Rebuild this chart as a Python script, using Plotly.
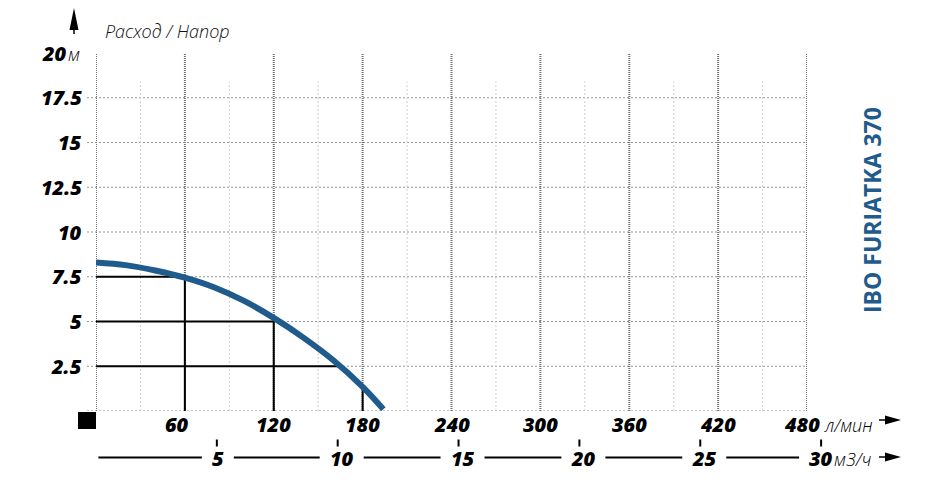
import plotly.graph_objects as go

# ---- data ----
flow_lmin = [0, 20, 40, 60, 80, 100, 120, 140, 160, 180, 194]
head_m = [8.3, 8.15, 7.85, 7.45, 6.9, 6.15, 5.2, 4.1, 2.85, 1.35, 0.1]

# duty-point guide lines
guide_heads = [7.5, 5, 2.5]
guide_head_flow = [60, 120, 165]
guide_flows = [60, 120, 180]
guide_flow_head = [7.5, 5.2, 1.3]

x_major = [0, 60, 120, 180, 240, 300, 360, 420, 480]
x_minor = [30, 90, 150, 210, 270, 330, 390, 450]
x_labels = [60, 120, 180, 240, 300, 360, 420, 480]
m3h_labels = [5, 10, 15, 20, 25, 30]
y_grid = [2.5, 5, 7.5, 10, 12.5, 15, 17.5]
y_labels = [2.5, 5, 7.5, 10, 12.5, 15, 17.5, 20]
y_label_text = ["2.5", "5", "7.5", "10", "12.5", "15", "17.5", "20"]

TITLE = "Расход / Напор"
MODEL = "IBO FURIATKA 370"
UNIT_Q = "л/мин"
UNIT_Q2 = "м3/ч"
UNIT_H = "м"

# ---- layout geometry (page body has an 8px margin) ----
OFF = 8
W, H = 925 - OFF, 486 - OFF
def px(x):
    return (x - OFF) / W
def py(y):
    return 1 - (y - OFF) / H

BLUE = "#1f5b8c"
FONT = "Open Sans"
K = 24.17          # px per m3/h on the lower scale
X2_LEFT = 96
X2_RIGHT = 900

fig = go.Figure()

# guides
gx, gy = [], []
for h, q in zip(guide_heads, guide_head_flow):
    gx += [0, q, None]
    gy += [h, h, None]
for q, h in zip(guide_flows, guide_flow_head):
    gx += [q, q, None]
    gy += [0, h, None]
fig.add_trace(go.Scatter(x=gx, y=gy, mode="lines",
                         line=dict(color="black", width=2),
                         hoverinfo="skip", showlegend=False))

# curve
fig.add_trace(go.Scatter(x=flow_lmin, y=head_m, mode="lines",
                         line=dict(color=BLUE, width=6, shape="spline", smoothing=1.0),
                         showlegend=False))

shapes = []
# minor vertical grid
for v in x_minor:
    shapes.append(dict(type="line", xref="x", yref="y", x0=v, x1=v, y0=0, y1=18.4,
                       line=dict(color="#cfcfcf", width=1, dash="2px,2px"), layer="below"))
# horizontal grid
for v in y_grid:
    shapes.append(dict(type="line", xref="paper", yref="y", x0=px(87), x1=px(807), y0=v, y1=v,
                       line=dict(color="#959595", width=1.2, dash="2px,2px"), layer="below"))
# bottom line
shapes.append(dict(type="line", xref="paper", yref="y", x0=px(87), x1=px(807), y0=0, y1=0,
                   line=dict(color="#b5b5b5", width=1.6, dash="2px,2px"), layer="below"))
# major vertical grid
for v in x_major:
    shapes.append(dict(type="line", xref="x", yref="y", x0=v, x1=v, y0=0, y1=20,
                       line=dict(color="#6e6e6e", width=2, dash="1px,1px"), layer="below"))

# m3/h scale line (broken around the labels) and ticks
m3_shift = {5: 1, 30: 0}
LINE_Y = 457.5
seg_start = 0.1
for v in m3h_labels:
    half = (6 + 6 * len(str(v)) + 4) / K
    c = v + m3_shift.get(v, 4) / K
    shapes.append(dict(type="line", xref="x2", yref="paper", x0=seg_start, x1=c - half,
                       y0=py(LINE_Y), y1=py(LINE_Y), line=dict(color="black", width=2.2)))
    seg_start = c + half
for v in m3h_labels:
    shapes.append(dict(type="line", xref="x2", yref="paper", x0=v, x1=v, y0=py(439.5), y1=py(446.5),
                       line=dict(color="black", width=2)))

# black square at origin
shapes.append(dict(type="rect", xref="paper", yref="paper", x0=px(78), x1=px(96),
                   y0=py(429), y1=py(412), fillcolor="black", line=dict(width=0)))

def tri(points):
    return "M " + " L ".join(f"{px(a):.5f},{py(b):.5f}" for a, b in points) + " Z"

# up arrow
shapes.append(dict(type="path", xref="paper", yref="paper",
                   path=tri([(74, 8), (78.5, 30), (69.5, 30)]),
                   fillcolor="black", line=dict(width=0)))
shapes.append(dict(type="line", xref="paper", yref="paper", x0=px(74), x1=px(74),
                   y0=py(29), y1=py(34), line=dict(color="black", width=1.5)))
# right arrows
for yy in (420, 457):
    shapes.append(dict(type="path", xref="paper", yref="paper",
                       path=tri([(901, yy), (885, yy - 4.5), (885, yy + 4.5)]),
                       fillcolor="black", line=dict(width=0)))
    shapes.append(dict(type="line", xref="paper", yref="paper", x0=px(879), x1=px(886),
                       y0=py(yy), y1=py(yy), line=dict(color="black", width=1.5)))

ann = []
numfont = dict(family=FONT, size=20, color="black", style="italic", weight=800)
lightfont = dict(family=FONT, size=18, color="black", style="italic", weight=300)

for v, t in zip(y_labels, y_label_text):
    if v == 20:
        ann.append(dict(x=px(69), y=v, xref="paper", yref="y", xanchor="right", yanchor="middle",
                        text=t, showarrow=False, font=numfont))
        ann.append(dict(x=px(66), y=v, xref="paper", yref="y", xanchor="left", yanchor="middle",
                        text=UNIT_H, showarrow=False, font=lightfont, yshift=-1))
    else:
        ann.append(dict(x=px(84), y=v, xref="paper", yref="y", xanchor="right", yanchor="middle",
                        text=t, showarrow=False, font=numfont))

label_shift = {60: -8, 480: -5}
for v in x_labels:
    ann.append(dict(x=v, y=py(424), xref="x", yref="paper", xanchor="center", yanchor="middle",
                    text=str(v), showarrow=False, font=numfont, xshift=label_shift.get(v, 0)))
ann.append(dict(x=480, y=py(424), xref="x", yref="paper", xanchor="left", yanchor="middle",
                text=UNIT_Q, showarrow=False, font=lightfont, xshift=15, yshift=-1))

for v in m3h_labels:
    ann.append(dict(x=v, y=py(458), xref="x2", yref="paper", xanchor="center", yanchor="middle",
                    text=str(v), showarrow=False, font=numfont, xshift=m3_shift.get(v, 4)))
ann.append(dict(x=30, y=py(458), xref="x2", yref="paper", xanchor="left", yanchor="middle",
                text=UNIT_Q2, showarrow=False, font=lightfont, xshift=11, yshift=-1))

ann.append(dict(x=px(103), y=py(31), xref="paper", yref="paper", xanchor="left", yanchor="middle",
                text=TITLE, showarrow=False, font=dict(family=FONT, size=18, color="#111",
                                                      style="italic", weight=300)))
ann.append(dict(x=px(872), y=py(210), xref="paper", yref="paper", xanchor="center", yanchor="middle",
                text=MODEL, showarrow=False, textangle=-90,
                font=dict(family=FONT, size=23, color=BLUE, weight=700)))

fig.update_layout(
    width=W, height=H,
    margin=dict(l=0, r=0, t=0, b=0),
    paper_bgcolor="white", plot_bgcolor="rgba(0,0,0,0)",
    xaxis=dict(domain=[px(96), px(807)], range=[0, 480], visible=False, fixedrange=True),
    xaxis2=dict(domain=[px(X2_LEFT), px(X2_RIGHT)], range=[0, (X2_RIGHT - X2_LEFT) / K],
                visible=False, anchor="y", fixedrange=True),
    yaxis=dict(domain=[py(411), py(53)], range=[0, 20], visible=False, fixedrange=True),
    shapes=shapes,
    annotations=ann,
    showlegend=False,
)

fig.write_html("out.html")
